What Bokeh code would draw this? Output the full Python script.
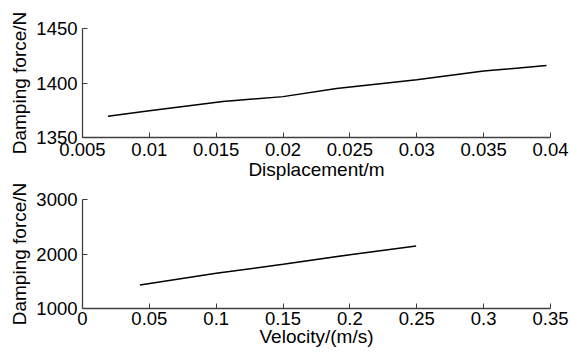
from bokeh.plotting import figure
from bokeh.layouts import column
from bokeh.models import FixedTicker, Range1d
from bokeh.embed import file_html
from bokeh.resources import INLINE

# Top chart data
disp = [0.0069, 0.010, 0.0155, 0.020, 0.024, 0.030, 0.035, 0.0397]
force_disp = [1369.5, 1374.5, 1383, 1387.5, 1395, 1403, 1411, 1416]
disp_ticks = [0.005, 0.01, 0.015, 0.02, 0.025, 0.03, 0.035, 0.04]
disp_tick_labels = ["0.005", "0.01", "0.015", "0.02", "0.025", "0.03", "0.035", "0.04"]
force1_ticks = [1350, 1400, 1450]

# Bottom chart data
vel = [0.043, 0.10, 0.15, 0.20, 0.2495]
force_vel = [1432, 1646, 1811, 1988, 2146]
vel_ticks = [0, 0.05, 0.1, 0.15, 0.2, 0.25, 0.3, 0.35]
vel_tick_labels = ["0", "0.05", "0.1", "0.15", "0.2", "0.25", "0.3", "0.35"]
force2_ticks = [1000, 2000, 3000]

FONT = "Liberation Sans"
TICK_FS = "18.5px"
LABEL_FS = "19px"


def style(p, xticks, xlabels, yticks, xlabel, ylabel, tick_standoff, label_standoff):
    p.grid.visible = False
    p.outline_line_color = None
    p.background_fill_color = "white"
    p.border_fill_color = "white"
    p.xaxis.ticker = FixedTicker(ticks=xticks)
    p.xaxis.major_label_overrides = {t: l for t, l in zip(xticks, xlabels)}
    p.yaxis.ticker = FixedTicker(ticks=yticks)
    p.yaxis.major_label_overrides = {t: str(t) for t in yticks}
    for ax in (p.xaxis, p.yaxis):
        ax.axis_line_color = "#404040"
        ax.axis_line_width = 1.3
        ax.major_tick_line_color = "#404040"
        ax.major_tick_in = 5
        ax.major_tick_out = 0
        ax.minor_tick_line_color = None
        ax.major_label_text_font = FONT
        ax.major_label_text_font_size = TICK_FS
        ax.major_label_text_color = "black"
        ax.axis_label_text_font = FONT
        ax.axis_label_text_font_size = LABEL_FS
        ax.axis_label_text_font_style = "normal"
        ax.axis_label_text_color = "black"
    p.xaxis.axis_label = xlabel
    p.yaxis.axis_label = ylabel
    p.xaxis.major_label_standoff = tick_standoff
    p.xaxis.axis_label_standoff = label_standoff
    p.yaxis.major_label_standoff = 5
    p.yaxis.axis_label_standoff = 3


p1 = figure(frame_width=468, frame_height=109, output_backend="svg",
            toolbar_location=None, min_border_left=82, min_border_right=21,
            min_border_top=28, min_border_bottom=0,
            x_range=Range1d(0.005, 0.04), y_range=Range1d(1350, 1450))
p1.line(disp, force_disp, line_color="black", line_width=1.5)
style(p1, disp_ticks, disp_tick_labels, force1_ticks,
      "Displacement/m", "Damping force/N", 5, 0)

p2 = figure(frame_width=468, frame_height=109, output_backend="svg",
            toolbar_location=None, min_border_left=82, min_border_right=21,
            min_border_top=17, min_border_bottom=0,
            x_range=Range1d(0, 0.35), y_range=Range1d(1000, 3000))
p2.line(vel, force_vel, line_color="black", line_width=1.5)
style(p2, vel_ticks, vel_tick_labels, force2_ticks,
      "Velocity/(m/s)", "Damping force/N", 3, -2)

layout = column(p1, p2, spacing=0)
open("out.html", "w").write(file_html(layout, INLINE))
